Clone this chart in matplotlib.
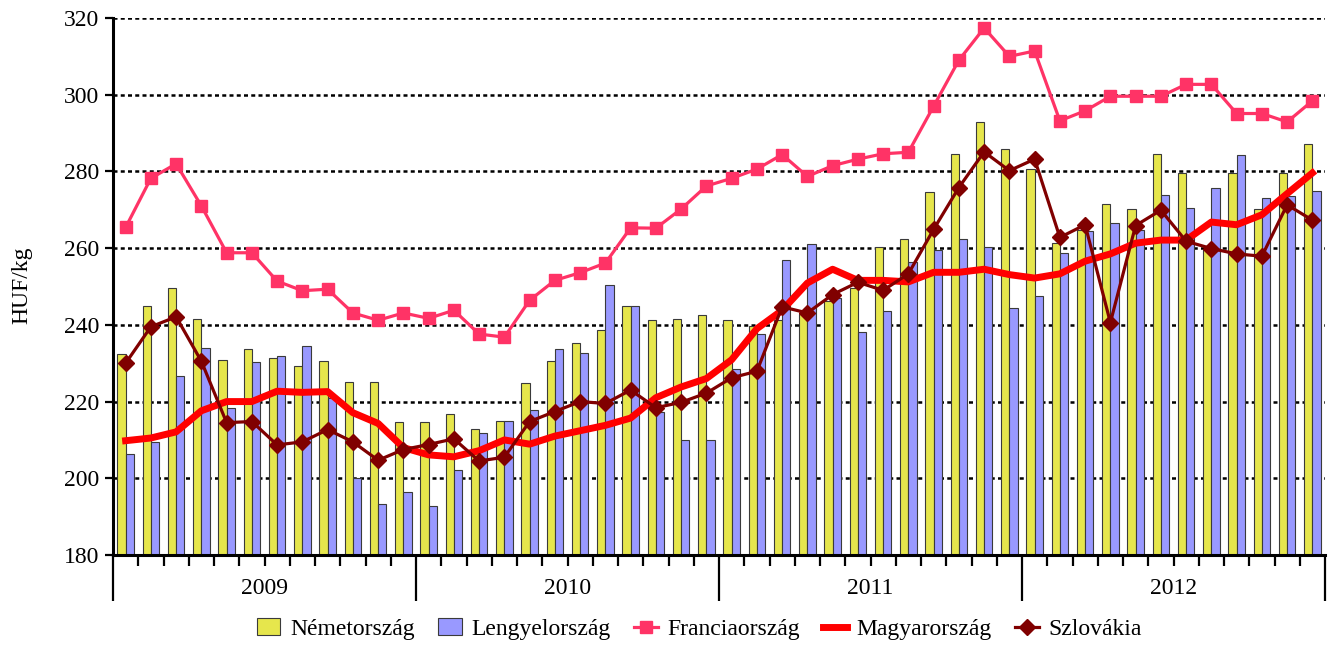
import matplotlib
matplotlib.use("Agg")
import matplotlib.pyplot as plt
import numpy as np
from matplotlib.lines import Line2D
from matplotlib.patches import Patch

years = ["2009", "2010", "2011", "2012"]

nemet = [232.4, 244.9, 249.7, 241.5, 230.9, 233.8, 231.3, 229.3, 230.7, 225.0, 225.0, 214.6,
         214.8, 216.7, 212.9, 214.9, 224.9, 230.5, 235.3, 238.6, 244.8, 241.3, 241.5, 242.5,
         241.3, 239.6, 241.3, 242.8, 246.3, 249.6, 260.2, 262.3, 274.7, 284.6, 292.9, 285.9,
         280.6, 261.4, 264.8, 271.6, 270.1, 284.6, 279.6, 259.7, 279.6, 270.1, 279.5, 287.2]

lengyel = [206.4, 209.5, 226.7, 233.9, 218.4, 230.3, 231.8, 234.4, 221.0, 200.1, 193.2, 196.5,
           192.9, 202.1, 211.9, 214.9, 217.9, 233.6, 232.6, 250.5, 244.8, 217.2, 210.1, 209.9,
           228.6, 237.6, 256.8, 261.1, 247.1, 238.2, 243.5, 256.4, 259.6, 262.5, 260.2, 244.4,
           247.4, 258.8, 264.4, 266.6, 264.7, 273.9, 270.4, 275.8, 284.4, 273.0, 273.5, 275.0]

francia = [265.4, 278.2, 282.0, 271.0, 258.8, 258.8, 251.4, 248.9, 249.3, 243.1, 241.2, 243.1,
           241.7, 243.8, 237.6, 236.8, 246.4, 251.6, 253.6, 256.1, 265.3, 265.2, 270.2, 276.2,
           278.2, 280.6, 284.4, 278.7, 281.5, 283.2, 284.6, 285.0, 297.0, 309.0, 317.4, 310.0,
           311.4, 293.2, 295.8, 299.6, 299.6, 299.6, 302.7, 302.7, 295.1, 295.1, 292.9, 298.4]

magyar = [209.8, 210.5, 212.1, 217.6, 220.0, 220.0, 222.7, 222.4, 222.6, 217.1, 214.3, 208.0,
          206.1, 205.6, 207.2, 210.0, 208.9, 211.0, 212.4, 213.8, 215.7, 221.0, 223.8, 226.0,
          230.9, 239.0, 243.8, 250.9, 254.5, 251.6, 251.6, 251.2, 253.7, 253.7, 254.5, 253.1,
          252.2, 253.3, 256.6, 258.5, 261.3, 262.1, 262.1, 266.8, 266.1, 268.7, 274.2, 279.6]

szlovak = [230.0, 239.5, 242.1, 230.5, 214.5, 214.8, 208.7, 209.5, 212.7, 209.5, 204.7, 207.5,
           208.8, 210.3, 204.5, 205.5, 214.8, 217.4, 220.0, 219.5, 223.0, 218.4, 219.8, 222.2,
           226.2, 227.9, 244.7, 243.1, 247.9, 251.1, 249.0, 253.3, 264.9, 275.8, 285.1, 280.2,
           283.2, 262.8, 266.1, 240.6, 265.9, 269.9, 261.8, 259.9, 258.5, 257.9, 271.3, 267.3]

series_names = ["Németország", "Lengyelország", "Franciaország", "Magyarország", "Szlovákia"]

plt.rcParams['font.family'] = ['Liberation Serif', 'DejaVu Serif']

W, H = 1332, 646
fig = plt.figure(figsize=(W / 100, H / 100), dpi=100)
ax = fig.add_axes([113 / W, 1 - 555 / H, (1325 - 113) / W, (555 - 18) / H])

n = len(nemet)
x = np.arange(n)
bw = 0.33
ymin = 180

ax.bar(x - bw / 2, np.array(nemet) - ymin, bw, bottom=ymin, color="#E6E64C",
       edgecolor="#3a3a3a", linewidth=0.8, zorder=2)
ax.bar(x + bw / 2, np.array(lengyel) - ymin, bw, bottom=ymin, color="#9999FF",
       edgecolor="#3a3a3a", linewidth=0.8, zorder=2)

ax.plot(x, francia, color="#FF3366", lw=2.3, marker="s", ms=9, zorder=3)
ax.plot(x, magyar, color="#FF0000", lw=5, solid_joinstyle="round", zorder=4)
ax.plot(x, szlovak, color="#800000", lw=2.3, marker="D", ms=8, zorder=5)

ax.set_xlim(-0.5, n - 0.5)
ax.set_ylim(180, 320)
ax.set_yticks(np.arange(180, 321, 20))
for yv in np.arange(200, 321, 20):
    ax.axhline(yv, color="black", lw=1.8, ls=(0, (1.6, 1.3)), zorder=1)

for s in ["top", "right"]:
    ax.spines[s].set_visible(False)
ax.spines["left"].set_linewidth(2.2)
ax.spines["bottom"].set_linewidth(2.2)

ax.tick_params(axis="y", direction="out", length=6, width=1.6, labelsize=17, pad=4)

# x ticks: month boundaries (minor), year boundaries (major, long)
ax.set_xticks(np.arange(-0.5, n, 12))
ax.set_xticklabels([])
ax.set_xticks(np.arange(-0.5, n, 1), minor=True)
ax.tick_params(axis="x", which="major", direction="out", length=33, width=1.6)
ax.tick_params(axis="x", which="minor", direction="out", length=8, width=1.6)

trans = matplotlib.transforms.blended_transform_factory(ax.transData, fig.transFigure)
for i, yr in enumerate(years):
    ax.text(i * 12 + 5.5, 1 - 588 / H, yr, transform=trans, ha="center", va="center", fontsize=17)

fig.text(22 / W, 1 - 285 / H, "HUF/kg", rotation=90, ha="center", va="center", fontsize=17)

handles = [
    Patch(facecolor="#E6E64C", edgecolor="#3a3a3a", linewidth=0.8),
    Patch(facecolor="#9999FF", edgecolor="#3a3a3a", linewidth=0.8),
    Line2D([], [], color="#FF3366", lw=2.3, marker="s", ms=9),
    Line2D([], [], color="#FF0000", lw=5),
    Line2D([], [], color="#800000", lw=2.3, marker="D", ms=8),
]
fig.legend(handles, series_names, loc="center", bbox_to_anchor=(0.525, 1 - 629 / H),
           ncol=5, frameon=False, fontsize=17, handlelength=1.0, handletextpad=0.4,
           columnspacing=1.0, borderaxespad=0)

fig.savefig("out.png", dpi=100)
